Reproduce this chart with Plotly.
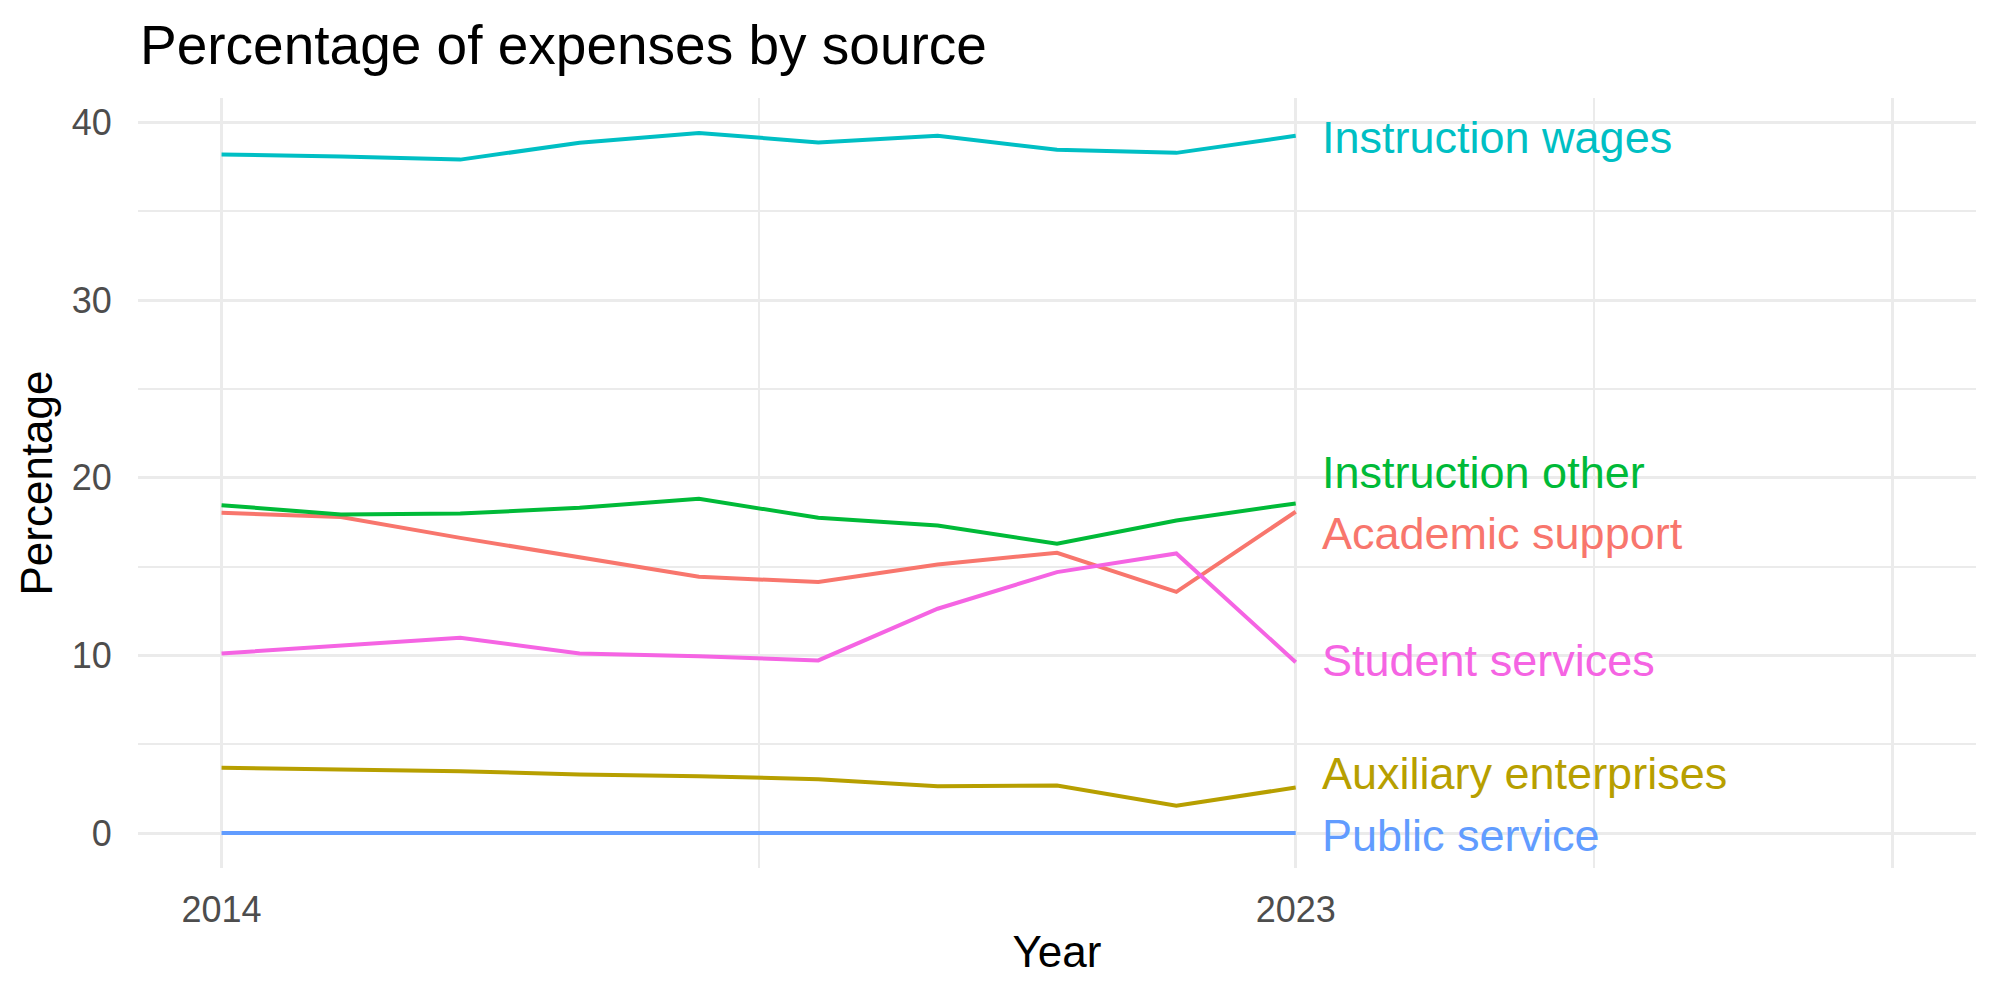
import plotly.graph_objects as go

years = [2014, 2015, 2016, 2017, 2018, 2019, 2020, 2021, 2022, 2023]

series_names = ["Academic support", "Auxiliary enterprises", "Instruction other",
                "Instruction wages", "Public service", "Student services"]
series_colors = ["#F8766D", "#B79F00", "#00BA38", "#00BFC4", "#619CFF", "#F564E3"]

academic_support = [18.03, 17.79, 16.62, 15.50, 14.43, 14.13, 15.12, 15.78, 13.58, 18.09]
auxiliary_enterprises = [3.67, 3.59, 3.48, 3.29, 3.20, 3.03, 2.63, 2.67, 1.54, 2.56]
instruction_other = [18.46, 17.94, 17.99, 18.31, 18.82, 17.75, 17.32, 16.29, 17.60, 18.56]
instruction_wages = [38.21, 38.10, 37.92, 38.87, 39.42, 38.89, 39.26, 38.47, 38.30, 39.26]
public_service = [0, 0, 0, 0, 0, 0, 0, 0, 0, 0]
student_services = [10.11, 10.56, 10.99, 10.11, 9.96, 9.72, 12.63, 14.69, 15.74, 9.62]

# repelled label positions
label_x = 2023.2
label_y = [16.85, 3.35, 20.3, 39.15, -0.15, 9.7]

y_ticks = [0, 10, 20, 30, 40]
y_minor = [5, 15, 25, 35]
x_ticks = [2014, 2023, 2028]
x_ticktext = ["2014", "2023", ""]
x_minor = [2018.5, 2025.5]

values = [academic_support, auxiliary_enterprises, instruction_other,
          instruction_wages, public_service, student_services]

fig = go.Figure()
for name, col, vals in zip(series_names, series_colors, values):
    fig.add_trace(go.Scatter(x=years, y=vals, mode="lines", name=name,
                             line=dict(color=col, width=4), showlegend=False))

for name, col, ly in zip(series_names, series_colors, label_y):
    fig.add_annotation(x=label_x, y=ly, text=name, showarrow=False,
                       xanchor="left", yanchor="middle", xref="x", yref="y",
                       font=dict(family="Liberation Sans", size=45, color=col))

grid = "#EBEBEB"
fig.update_layout(
    width=2000, height=1000,
    margin=dict(l=138, r=24, t=98, b=132),
    paper_bgcolor="white", plot_bgcolor="white",
    font=dict(family="Liberation Sans", color="#000000"),
    title=dict(text="Percentage of expenses by source", x=0.07, xanchor="left",
               xref="container", y=0.955, yref="container", yanchor="middle",
               font=dict(size=55, color="#000000")),
    xaxis=dict(range=[2013.3, 2028.7], tickmode="array", tickvals=x_ticks,
               ticktext=x_ticktext, showgrid=True, gridcolor=grid, gridwidth=3,
               zeroline=False, showline=False, ticks="outside", ticklen=10,
               tickcolor="rgba(0,0,0,0)",
               tickfont=dict(size=36, color="#4D4D4D"),
               minor=dict(tickmode="array", tickvals=x_minor, showgrid=True,
                          gridcolor=grid, gridwidth=1.5, ticks=""),
               title=dict(text="Year", font=dict(size=44, color="#000000"), standoff=6)),
    yaxis=dict(range=[-1.971, 41.39], tickmode="array", tickvals=y_ticks,
               showgrid=True, gridcolor=grid, gridwidth=3,
               zeroline=False, showline=False, ticks="outside", ticklen=18,
               tickcolor="rgba(0,0,0,0)",
               tickfont=dict(size=36, color="#4D4D4D"),
               minor=dict(tickmode="array", tickvals=y_minor, showgrid=True,
                          gridcolor=grid, gridwidth=1.5, ticks=""),
               title=dict(text="Percentage", font=dict(size=44, color="#000000"), standoff=5)),
)

fig.write_html("out.html")
